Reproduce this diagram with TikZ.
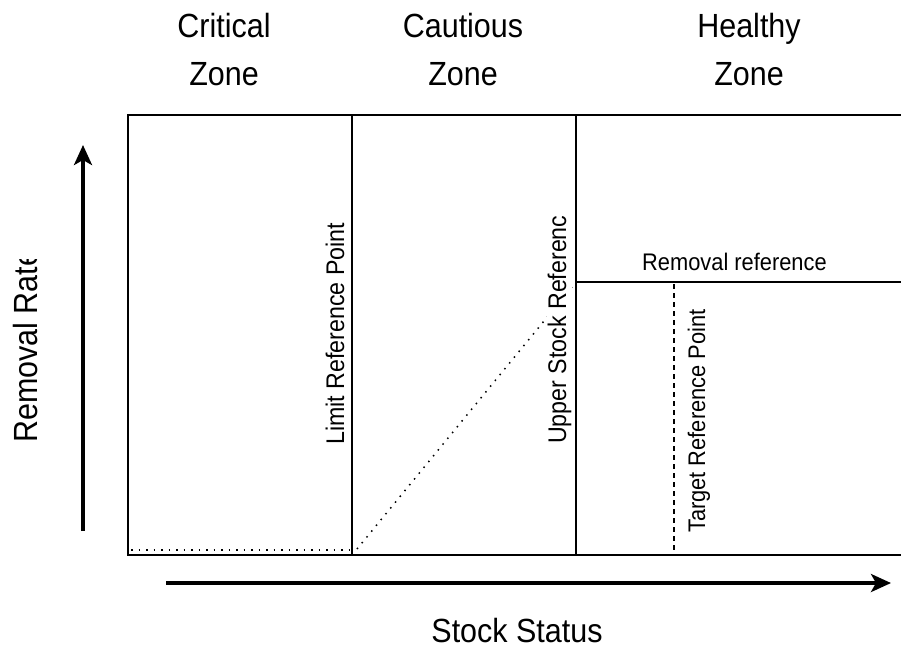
\documentclass[tikz,border=0pt]{standalone}
\usepackage{fontspec}
\setmainfont{Liberation Sans}
\newfontfamily\narrowfont{Liberation Sans}[FakeStretch=0.91]
\usetikzlibrary{arrows.meta}
\tikzset{
  frame/.style={line width=1.4pt, black},
  dotline/.style={line width=1.5pt, dash pattern=on 1.5pt off 6pt},
  dashline/.style={line width=1.1pt, dash pattern=on 5pt off 4pt},
  axisarrow/.style={line width=3.5pt, -{Stealth[length=20pt,width=18pt,inset=5pt]}},
  bigtext/.style={font=\narrowfont\fontsize{33.5}{40}\selectfont, inner sep=0pt, align=center},
  smalltext/.style={font=\narrowfont\fontsize{25.5}{30}\selectfont, inner sep=0pt},
}
\begin{document}
\begin{tikzpicture}[x=1pt,y=-1pt]
\useasboundingbox (0,0) rectangle (901,649);
% corners
\coordinate (tl) at (128,115);
\coordinate (bl) at (128,555);
\coordinate (tr) at (901,115);
\coordinate (br) at (901,555);
\coordinate (l1t) at (352,115);
\coordinate (l1b) at (352,555);
\coordinate (l2t) at (576,115);
\coordinate (l2b) at (576,555);
\coordinate (rr1) at (576,282);
\coordinate (rr2) at (901,282);
\coordinate (tg1) at (674,284);
\coordinate (tg2) at (674,555);
\coordinate (cz1) at (131,550);
\coordinate (cz2) at (352,550);
\coordinate (dg1) at (357,549);
\coordinate (dg2) at (576,282);
\coordinate (ya) at (83,531);
\coordinate (yb) at (83,145);
\coordinate (xa) at (166,583);
\coordinate (xb) at (891,583);
% diagonal dotted
\draw[dotline] (dg1) -- (dg2);
% frame
\draw[frame] (tr) -- (tl) -- (bl) -- (br);
\draw[frame] (l1t) -- (l1b);
\draw[frame] (l2t) -- (l2b);
\draw[frame] (rr1) -- (rr2);
\draw[dashline] (tg1) -- (tg2);
\draw[dotline] (cz1) -- (cz2);
% axes
\draw[axisarrow] (ya) -- (yb);
\draw[axisarrow] (xa) -- (xb);
% zone labels
\node[bigtext, anchor=base] (crit) at (224,37) {Critical};
\node[bigtext, anchor=base] (critz) at (224,85) {Zone};
\node[bigtext, anchor=base] (caut) at (463,37) {Cautious};
\node[bigtext, anchor=base] (cautz) at (463,85) {Zone};
\node[bigtext, anchor=base] (heal) at (749,37) {Healthy};
\node[bigtext, anchor=base] (healz) at (749,85) {Zone};
% axis labels
\node[bigtext, anchor=base] (stock) at (517,642) {Stock Status};
\begin{scope}
\clip (0,259) rectangle (60,460);
\node[bigtext, rotate=90, anchor=base west] (rate) at (37,443) {Removal Rate};
\end{scope}
% reference labels
\node[smalltext, rotate=90, anchor=base west] (lim) at (344,445) {Limit Reference Point};
\begin{scope}
\clip (540,214) rectangle (575,460);
\node[smalltext, rotate=90, anchor=base west, fill=white, inner sep=1pt] (usr) at (566,445) {Upper Stock Reference};
\end{scope}
\node[smalltext, rotate=90, anchor=base west, font=\narrowfont\fontsize{24}{28}\selectfont] (trp) at (705,533) {Target Reference Point};
\node[smalltext, anchor=base west, font=\narrowfont\fontsize{24}{28}\selectfont] (rem) at (642,270) {Removal reference};
\end{tikzpicture}
\end{document}
